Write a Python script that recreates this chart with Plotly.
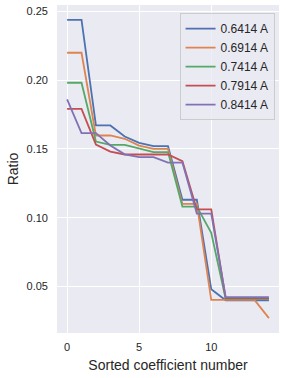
import plotly.graph_objects as go

x_idx = list(range(15))
labels = ["0.6414 A", "0.6914 A", "0.7414 A", "0.7914 A", "0.8414 A"]
s_0641 = [0.2437, 0.2437, 0.167, 0.167, 0.159, 0.1544, 0.152, 0.152, 0.113, 0.113, 0.048, 0.0400, 0.0400, 0.0400, 0.0400]
s_0691 = [0.2198, 0.2198, 0.1597, 0.1597, 0.1573, 0.1524, 0.150, 0.150, 0.110, 0.110, 0.0403, 0.0403, 0.0403, 0.0403, 0.027]
s_0741 = [0.198, 0.198, 0.1553, 0.1529, 0.1529, 0.150, 0.1476, 0.1476, 0.108, 0.108, 0.089, 0.041, 0.041, 0.041, 0.041]
s_0791 = [0.179, 0.179, 0.1531, 0.148, 0.1459, 0.1459, 0.1459, 0.146, 0.141, 0.106, 0.106, 0.0415, 0.0415, 0.0415, 0.0415]
s_0841 = [0.186, 0.1614, 0.1614, 0.1524, 0.146, 0.144, 0.144, 0.140, 0.140, 0.103, 0.103, 0.0422, 0.0422, 0.0422, 0.0422]
series = [s_0641, s_0691, s_0741, s_0791, s_0841]
colors = ["#4C72B0", "#DD8452", "#55A868", "#C44E52", "#8172B3"]

fig = go.Figure()
for lab, ys, c in zip(labels, series, colors):
    fig.add_trace(go.Scatter(x=x_idx, y=ys, mode="lines", name=lab,
                             line=dict(color=c, width=1.8)))

font_family = "Liberation Sans, Arial, sans-serif"
fig.update_layout(
    width=286, height=378,
    margin=dict(l=57, r=7, t=5, b=45),
    paper_bgcolor="white", plot_bgcolor="#EAEAF2",
    font=dict(family=font_family, size=11, color="#262626"),
    showlegend=True,
    legend=dict(x=0.98, xanchor="right", y=0.975, yanchor="top",
                bgcolor="rgba(234,234,242,0.8)", bordercolor="#CCCCCC", borderwidth=1,
                font=dict(size=12, color="#262626"), itemwidth=30,
                tracegroupgap=0),
    xaxis=dict(range=[-0.7, 14.7], tickvals=[0, 5, 10], ticktext=["0", "5", "10"],
               showgrid=True, gridcolor="white", gridwidth=1, zeroline=False,
               showline=False, ticks="", ticklabelstandoff=6, automargin=False,
               title=dict(text="Sorted coefficient number", font=dict(size=14, color="#262626"), standoff=8)),
    yaxis=dict(range=[0.0162, 0.2545], tickvals=[0.05, 0.10, 0.15, 0.20, 0.25],
               ticktext=["0.05", "0.10", "0.15", "0.20", "0.25"],
               showgrid=True, gridcolor="white", gridwidth=1, zeroline=False,
               showline=False, ticks="", ticklabelstandoff=8, automargin=False,
               title=dict(text="Ratio", font=dict(size=14, color="#262626"), standoff=4)),
)
fig.write_html("out.html", config={"displayModeBar": False},
               post_script="document.body.style.margin='0';document.body.style.padding='0';")
